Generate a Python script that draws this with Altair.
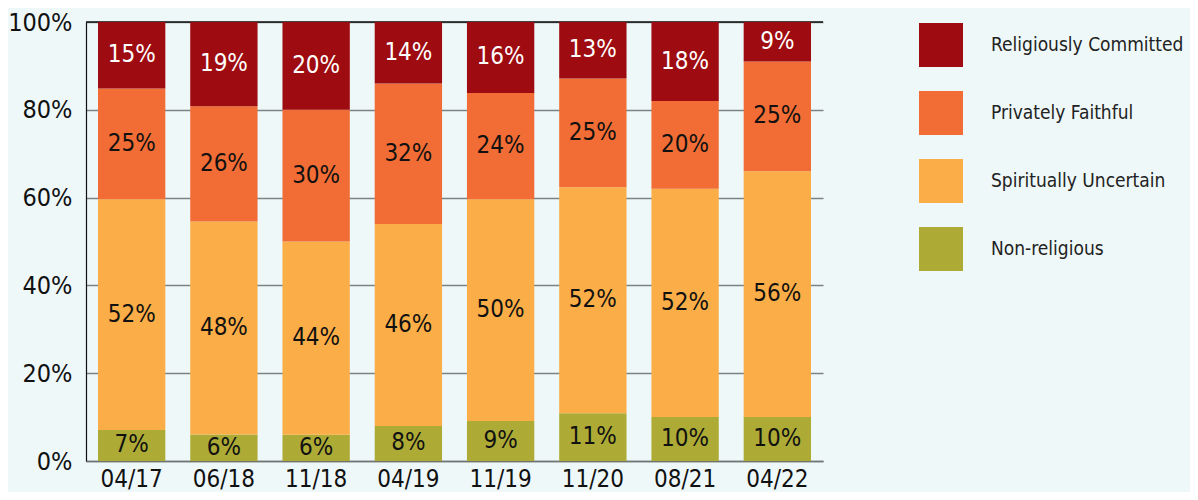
import altair as alt
import pandas as pd

dates = ["04/17", "06/18", "11/18", "04/19", "11/19", "11/20", "08/21", "04/22"]
series = ["Religiously Committed", "Privately Faithful", "Spiritually Uncertain", "Non-religious"]
colors = ["#9e0b10", "#f26d35", "#fbae47", "#adab35"]

non_religious = [7, 6, 6, 8, 9, 11, 10, 10]
spiritually_uncertain = [52, 48, 44, 46, 50, 52, 52, 56]
privately_faithful = [25, 26, 30, 32, 24, 25, 20, 25]
religiously_committed = [15, 19, 20, 14, 16, 13, 18, 9]

rows = []
for i, d in enumerate(dates):
    for order, (s, vals) in enumerate([
        ("Non-religious", non_religious),
        ("Spiritually Uncertain", spiritually_uncertain),
        ("Privately Faithful", privately_faithful),
        ("Religiously Committed", religiously_committed),
    ]):
        rows.append({"date": d, "series": s, "value": vals[i], "order": order})
df = pd.DataFrame(rows)

FONT = "DejaVu Sans Condensed, sans-serif"

base = alt.Chart(df).transform_stack(
    stack="value", groupby=["date"], as_=["y0", "y1"],
    sort=[alt.SortField("order", order="ascending")], offset="normalize"
).transform_calculate(mid="(datum.y0 + datum.y1) / 2", lbl="datum.value + '%'")

xenc = alt.X("date:N", sort=dates, title=None,
             scale=alt.Scale(paddingInner=0.27, paddingOuter=0.13),
             axis=alt.Axis(labelAngle=0, labelFontSize=24, labelFont=FONT, labelColor="#111",
                           ticks=False, labelPadding=6, domainColor="#6f7475", domainWidth=1.5))

bars = base.mark_bar().encode(
    x=xenc,
    y=alt.Y("y0:Q", title=None, scale=alt.Scale(domain=[0, 1], nice=False),
            axis=alt.Axis(format=".0%", values=[0, 0.2, 0.4, 0.6, 0.8, 1.0], labelFontSize=25,
                          labelFont=FONT, labelColor="#111", ticks=False, labelPadding=14,
                          grid=True, gridColor="#7d8283", gridWidth=1.5,
                          domainColor="#111", domainWidth=1.2)),
    y2="y1:Q",
    color=alt.Color("series:N", scale=alt.Scale(domain=series, range=colors), title=None,
                    legend=alt.Legend(orient="none", legendX=833, legendY=1, symbolType="square",
                                      symbolSize=1936, symbolStrokeWidth=0, symbolOpacity=1,
                                      labelFontSize=19, labelFont=FONT, labelColor="#222",
                                      labelOffset=28, rowPadding=24, labelLimit=300)),
)

toprule = alt.Chart(pd.DataFrame({"y": [1.0]})).mark_rule(color="#111", strokeWidth=1.5).encode(
    y="y:Q"
)

labels = base.mark_text(fontSize=24, font=FONT, baseline="middle", align="center").encode(
    x=alt.X("date:N", sort=dates),
    y="mid:Q",
    text="lbl:N",
    color=alt.condition(alt.datum.series == "Religiously Committed", alt.value("white"), alt.value("#111")),
)

chart = alt.layer(toprule, bars, labels).properties(
    width=737, height=439,
    background="#eff8f9",
    padding={"left": 78, "top": 14, "right": 367, "bottom": 31},
    autosize=alt.AutoSizeParams(type="none"),
).configure_view(stroke=None)

chart.save("out.html", embed_options={"renderer": "svg", "actions": False})
